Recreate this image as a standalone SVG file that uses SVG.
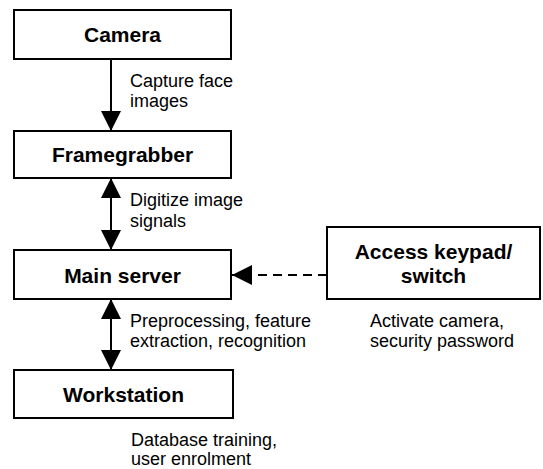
<svg xmlns="http://www.w3.org/2000/svg" width="543" height="469" viewBox="0 0 543 469">
  <defs>
    <marker id="arrow" viewBox="0 0 20 20" refX="20" refY="10" markerWidth="20" markerHeight="20" markerUnits="userSpaceOnUse" orient="auto-start-reverse">
      <path d="M0,0 L20,10 L0,20 Z" fill="#000"/>
    </marker>
    <style>
      .box { fill: #fff; stroke: #000; stroke-width: 2; }
      .title { font-family: "Liberation Sans", Arial, sans-serif; font-size: 21px; font-weight: bold; text-anchor: middle; fill: #000; }
      .label { font-family: "Liberation Sans", Arial, sans-serif; font-size: 18px; fill: #000; }
      .link { stroke: #000; stroke-width: 2; fill: none; }
    </style>
  </defs>
  <rect width="543" height="469" fill="#fff"/>

  <g id="connectors">
    <line class="link" x1="111" y1="59" x2="111" y2="131" marker-end="url(#arrow)"/>
    <line class="link" x1="111" y1="178" x2="111" y2="250" marker-start="url(#arrow)" marker-end="url(#arrow)"/>
    <line class="link" x1="111" y1="299" x2="111" y2="370" marker-start="url(#arrow)" marker-end="url(#arrow)"/>
    <line class="link" x1="327" y1="275" x2="232" y2="275" stroke-dasharray="9 6" marker-end="url(#arrow)"/>
  </g>

  <g id="camera">
    <rect class="box" x="14" y="10" width="217" height="49"/>
    <text class="title" x="122.5" y="42">Camera</text>
  </g>

  <g id="framegrabber">
    <rect class="box" x="14" y="131" width="217" height="47"/>
    <text class="title" x="122.5" y="162">Framegrabber</text>
  </g>

  <g id="main-server">
    <rect class="box" x="14" y="250" width="217" height="49"/>
    <text class="title" x="122.5" y="283">Main server</text>
  </g>

  <g id="workstation">
    <rect class="box" x="14" y="370" width="219" height="48"/>
    <text class="title" x="123.5" y="402">Workstation</text>
  </g>

  <g id="access-keypad">
    <rect class="box" x="327" y="227" width="213" height="72"/>
    <text class="title" x="433.5" y="259">Access keypad/</text>
    <text class="title" x="433.5" y="283">switch</text>
  </g>

  <g id="labels">
    <text class="label" x="130" y="87">Capture face</text>
    <text class="label" x="130" y="107">images</text>
    <text class="label" x="130" y="206">Digitize image</text>
    <text class="label" x="130" y="227">signals</text>
    <text class="label" x="130" y="327">Preprocessing, feature</text>
    <text class="label" x="130" y="347">extraction, recognition</text>
    <text class="label" x="131" y="446">Database training,</text>
    <text class="label" x="131" y="465">user enrolment</text>
    <text class="label" x="370" y="327">Activate camera,</text>
    <text class="label" x="370" y="347">security password</text>
  </g>
</svg>
